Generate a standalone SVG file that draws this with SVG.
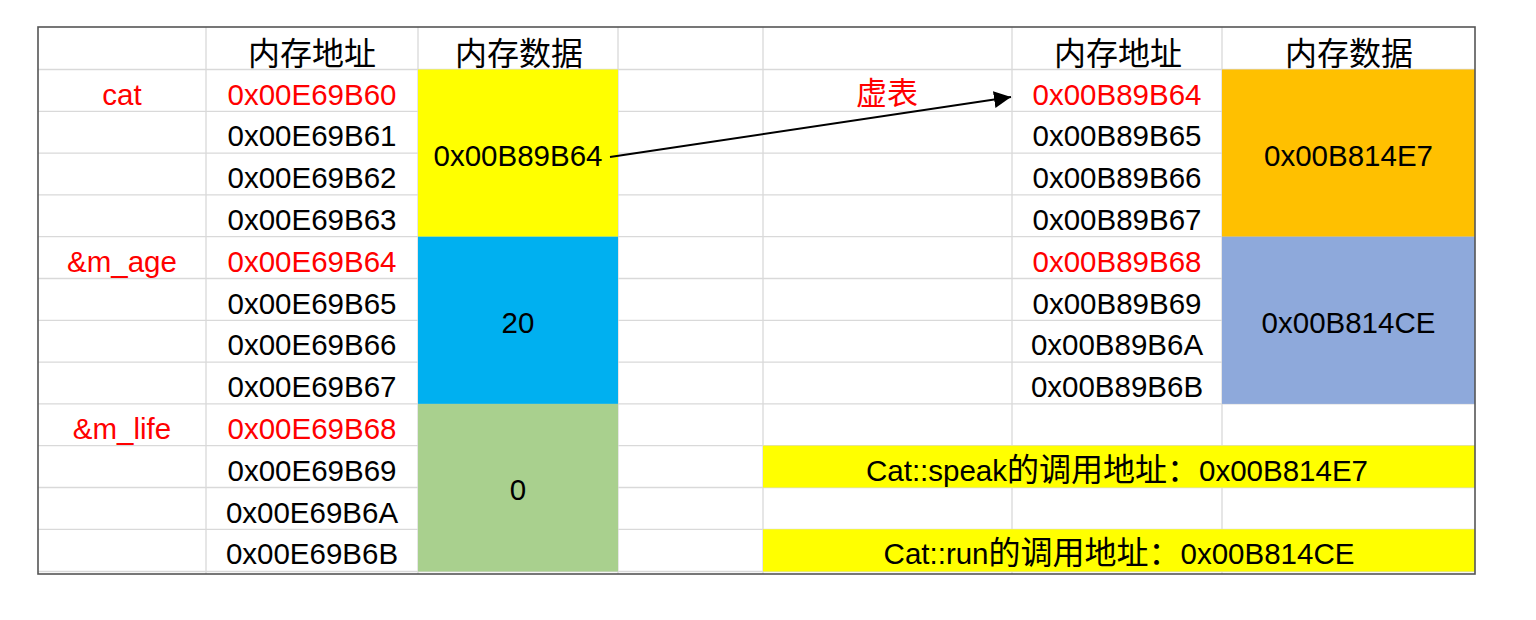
<svg xmlns="http://www.w3.org/2000/svg" width="1536" height="620" viewBox="0 0 1536 620">
<defs>
<style>
.g{stroke:#D9D9D9;stroke-width:1.3;fill:none}
.t{font-family:"Liberation Sans","Noto Sans CJK SC",sans-serif;font-size:29.5px;fill:#000;text-anchor:middle}
.c{font-family:"Noto Sans CJK SC",sans-serif;font-size:32px}
.h{font-family:"Noto Sans CJK SC",sans-serif;font-size:32px;fill:#000;text-anchor:middle}
text.r{fill:#FF0000}
</style>
<marker id="arr" markerUnits="userSpaceOnUse" markerWidth="18" markerHeight="18" refX="17" refY="8.5" orient="auto">
<path d="M0,0 L17,8.5 L0,17 z" fill="#000"/>
</marker>
</defs>
<rect width="1536" height="620" fill="#fff"/>
<g id="grid">
<path class="g" d="M38,69.5H1475M38,111.3H1475M38,153.1H1475M38,194.9H1475M38,236.7H1475M38,278.5H1475M38,320.3H1475M38,362.1H1475M38,403.9H1475M38,445.7H1475M38,487.5H1475M38,529.3H1475M38,571.5H1475"/>
<path class="g" d="M206,27V574M418,27V574M618,27V574M763,27V574M1012,27V574M1222,27V574"/>
</g>
<g id="fills">
<rect x="418" y="69.5" width="200" height="167.2" fill="#FFFF00"/>
<rect x="418" y="236.7" width="200" height="167.2" fill="#00B0F0"/>
<rect x="418" y="403.9" width="200" height="167.6" fill="#A9D08E"/>
<rect x="1222" y="69.5" width="253" height="167.2" fill="#FFC000"/>
<rect x="1222" y="236.7" width="253" height="167.2" fill="#8EA9DB"/>
<rect x="763" y="445.7" width="712" height="41.8" fill="#FFFF00"/>
<rect x="763" y="529.3" width="712" height="42.2" fill="#FFFF00"/>
</g>
<rect x="38" y="27" width="1437" height="547" fill="none" stroke="#555" stroke-width="1.6"/>
<g id="headers">
<text class="h" x="312" y="65">内存地址</text>
<text class="h" x="519" y="65">内存数据</text>
<text class="h" x="1118" y="65">内存地址</text>
<text class="h" x="1349" y="65">内存数据</text>
</g>
<g id="labels">
<text class="t r" x="122" y="104.5">cat</text>
<text class="t r" x="122" y="271.7">&amp;m_age</text>
<text class="t r" x="122" y="438.9">&amp;m_life</text>
</g>
<g id="object-addresses">
<text class="t r" x="312" y="104.5">0x00E69B60</text>
<text class="t" x="312" y="146.3">0x00E69B61</text>
<text class="t" x="312" y="188.1">0x00E69B62</text>
<text class="t" x="312" y="229.9">0x00E69B63</text>
<text class="t r" x="312" y="271.7">0x00E69B64</text>
<text class="t" x="312" y="313.5">0x00E69B65</text>
<text class="t" x="312" y="355.3">0x00E69B66</text>
<text class="t" x="312" y="397.1">0x00E69B67</text>
<text class="t r" x="312" y="438.9">0x00E69B68</text>
<text class="t" x="312" y="480.7">0x00E69B69</text>
<text class="t" x="312" y="522.5">0x00E69B6A</text>
<text class="t" x="312" y="564.3">0x00E69B6B</text>
</g>
<g id="object-data">
<text class="t" x="518" y="166">0x00B89B64</text>
<text class="t" x="518" y="333">20</text>
<text class="t" x="518" y="500">0</text>
</g>
<g id="vtable-label">
<text class="h r" x="887" y="104" style="font-size:31px">虚表</text>
</g>
<g id="vtable-addresses">
<text class="t r" x="1117" y="104.5">0x00B89B64</text>
<text class="t" x="1117" y="146.3">0x00B89B65</text>
<text class="t" x="1117" y="188.1">0x00B89B66</text>
<text class="t" x="1117" y="229.9">0x00B89B67</text>
<text class="t r" x="1117" y="271.7">0x00B89B68</text>
<text class="t" x="1117" y="313.5">0x00B89B69</text>
<text class="t" x="1117" y="355.3">0x00B89B6A</text>
<text class="t" x="1117" y="397.1">0x00B89B6B</text>
</g>
<g id="vtable-data">
<text class="t" x="1348.5" y="166">0x00B814E7</text>
<text class="t" x="1348.5" y="333">0x00B814CE</text>
</g>
<g id="function-addresses">
<text class="t" x="1117" y="480.7">Cat::speak<tspan class="c">的调用地址：</tspan>0x00B814E7</text>
<text class="t" x="1119" y="564.3">Cat::run<tspan class="c">的调用地址：</tspan>0x00B814CE</text>
</g>
<g id="connectors">
<line x1="610" y1="157" x2="1011" y2="97" stroke="#000" stroke-width="2" marker-end="url(#arr)"/>
</g>
</svg>
